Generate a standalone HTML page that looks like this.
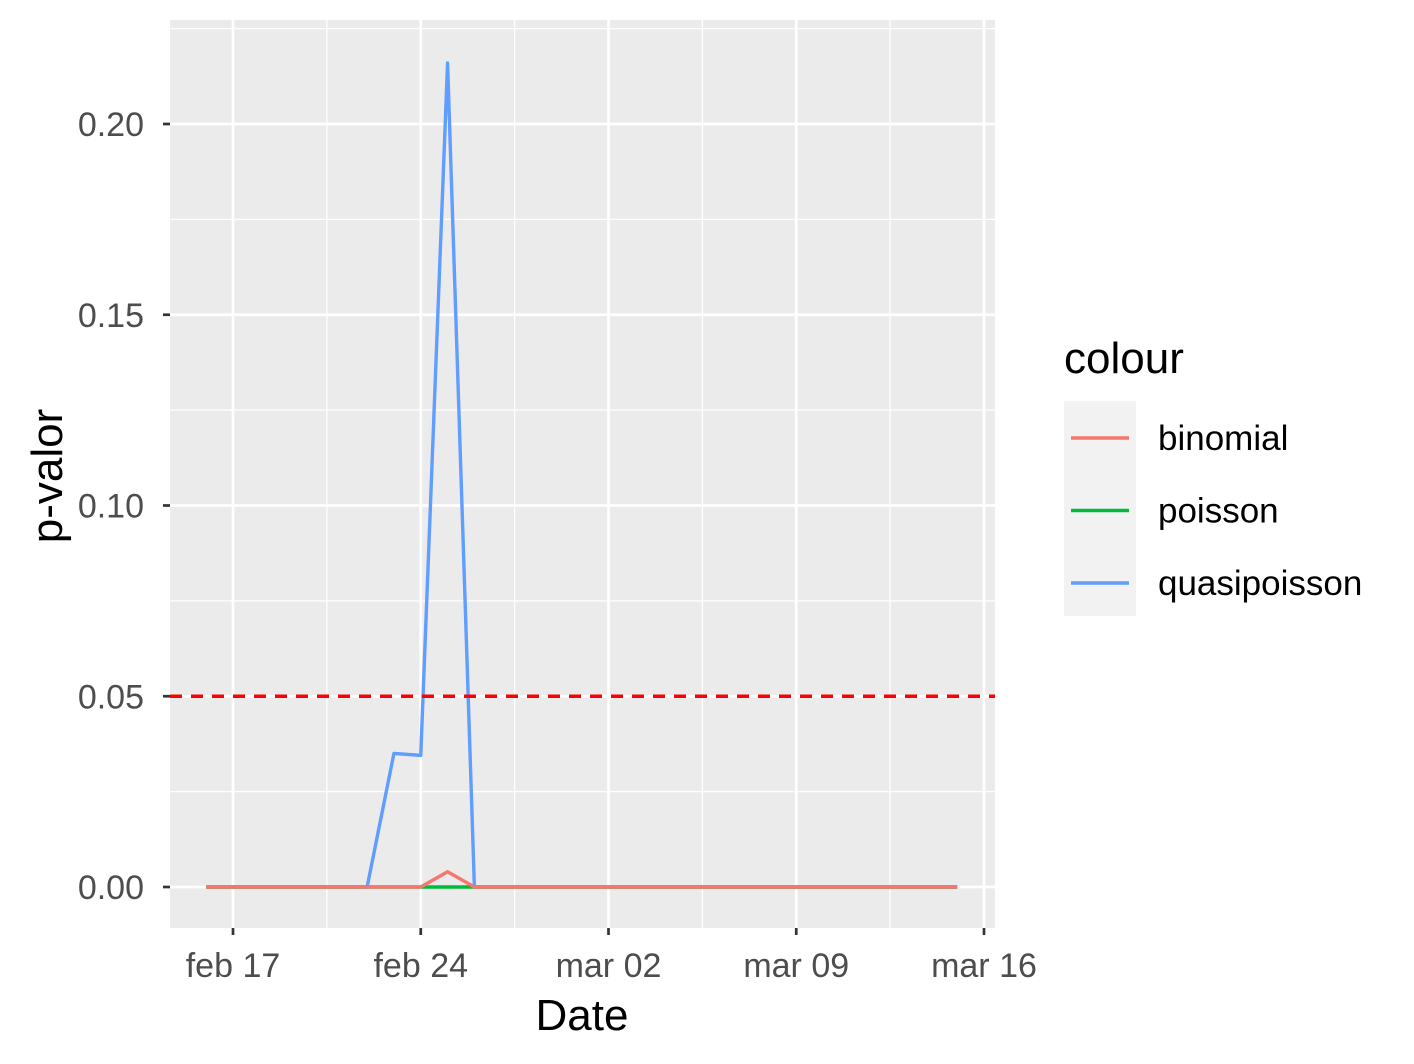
<!DOCTYPE html>
<html><head><meta charset="utf-8"><style>
html,body{margin:0;padding:0;background:#fff;}
svg{display:block;font-family:"Liberation Sans",Arial,sans-serif;}
</style></head><body>
<svg id="chart" width="1414" height="1064"></svg>
<script>
const dates = ["2020-02-16","2020-02-17","2020-02-18","2020-02-19","2020-02-20","2020-02-21","2020-02-22","2020-02-23","2020-02-24","2020-02-25","2020-02-26","2020-02-27","2020-02-28","2020-02-29","2020-03-01","2020-03-02","2020-03-03","2020-03-04","2020-03-05","2020-03-06","2020-03-07","2020-03-08","2020-03-09","2020-03-10","2020-03-11","2020-03-12","2020-03-13","2020-03-14","2020-03-15"];
const binomial = [0,0,0,0,0,0,0,0,0,0.004,0,0,0,0,0,0,0,0,0,0,0,0,0,0,0,0,0,0,0];
const poisson = [0,0,0,0,0,0,0,0,0,0,0,0,0,0,0,0,0,0,0,0,0,0,0,0,0,0,0,0,0];
const quasipoisson = [0,0,0,0,0,0,0,0.035,0.0345,0.216,0,0,0,0,0,0,0,0,0,0,0,0,0,0,0,0,0,0,0];
const yTicks = [0,0.05,0.10,0.15,0.20];
const yTickLabels = ["0.00","0.05","0.10","0.15","0.20"];
const xTicks = ["2020-02-17","2020-02-24","2020-03-02","2020-03-09","2020-03-16"];
const xTickLabels = ["feb 17","feb 24","mar 02","mar 09","mar 16"];
const threshold = 0.05;

const NS="http://www.w3.org/2000/svg";
const svg=document.getElementById('chart');
const L=170,R=995,T=20,B=928;
const day0=Date.parse("2020-02-17"), pxDay=187.75/7;
function x(d){return 233+(Date.parse(d)-day0)/86400000*pxDay;}
function y(v){return 887-v*3815;}
function el(tag,attrs,parent){const e=document.createElementNS(NS,tag);for(const k in attrs)e.setAttribute(k,attrs[k]);(parent||svg).appendChild(e);return e;}

let bg=el('rect',{x:L,y:T,width:R-L,height:B-T,fill:'#ebebeb'});


for(let i=0;i<yTicks.length;i++){const v=yTicks[i]+0.025;if(y(v)>T){let g=el('line',{x1:L,x2:R,y1:y(v),y2:y(v),stroke:'#fff','stroke-width':1.3});}}
for(let i=-1;i<xTicks.length;i++){const base=i<0?Date.parse(xTicks[0])-7*86400000:Date.parse(xTicks[i]);const px=233+(base+3.5*86400000-day0)/86400000*pxDay;if(px>L&&px<R){let g=el('line',{x1:px,x2:px,y1:T,y2:B,stroke:'#fff','stroke-width':1.3});}}
yTicks.forEach((v,i)=>{
 let g=el('line',{x1:L,x2:R,y1:y(v),y2:y(v),stroke:'#fff','stroke-width':2.7});
 let t=el('line',{x1:L-7,x2:L,y1:y(v),y2:y(v),stroke:'#333','stroke-width':2.7});
 let tx=el('text',{x:L-26,y:y(v)+12,'text-anchor':'end','font-size':34,fill:'#4d4d4d'});tx.textContent=yTickLabels[i];
});
xTicks.forEach((d,i)=>{
 let g=el('line',{x1:x(d),x2:x(d),y1:T,y2:B,stroke:'#fff','stroke-width':2.7});
 let t=el('line',{x1:x(d),x2:x(d),y1:B,y2:B+7,stroke:'#333','stroke-width':2.7});
 let tx=el('text',{x:x(d),y:B+49,'text-anchor':'middle','font-size':34,fill:'#4d4d4d'});tx.textContent=xTickLabels[i];
});
function series(vals,color,name){
 const p=el('polyline',{points:vals.map((v,i)=>x(dates[i])+','+y(v)).join(' '),fill:'none',stroke:color,'stroke-width':3.4,'stroke-linejoin':'round'});
 
}
series(quasipoisson,'#619cff','quasipoisson-line');
series(poisson,'#00ba38','poisson-line');
series(binomial,'#f8766d','binomial-line');
let th=el('line',{x1:L,x2:R,y1:y(threshold),y2:y(threshold),stroke:'#ff0000','stroke-width':3.4,'stroke-dasharray':'12,9'});

let xt=el('text',{x:582,y:1030,'text-anchor':'middle','font-size':44,fill:'#000'});xt.textContent='Date';

let yt=el('text',{x:0,y:0,'text-anchor':'middle','font-size':44,fill:'#000',transform:'translate(62,476) rotate(-90)'});yt.textContent='p-valor';

let lg=el('g',{});
let lt=el('text',{x:1064,y:373,'font-size':44,fill:'#000'},lg);lt.textContent='colour';

let kb=el('rect',{x:1064,y:401,width:72,height:215,fill:'#f2f2f2'},lg);

const legendNames=["binomial","poisson","quasipoisson"],legendColors=['#f8766d','#00ba38','#619cff'];
legendNames.forEach((n,i)=>{
 const yy=438+i*72.5;
 let ln=el('line',{x1:1071,x2:1129,y1:yy,y2:yy,stroke:legendColors[i],'stroke-width':3.4},lg);
 
 let tx=el('text',{x:1158,y:yy+12,'font-size':35,fill:'#000'},lg);tx.textContent=n;
 
});
</script>
</body></html>
